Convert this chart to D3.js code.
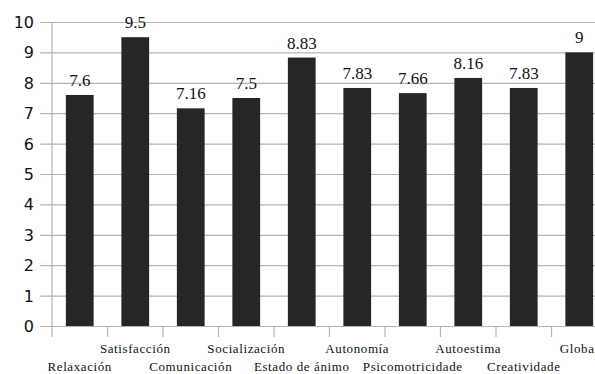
<!DOCTYPE html>
<html>
<head>
<meta charset="utf-8">
<script src="https://cdn.jsdelivr.net/npm/d3@7"></script>
<style>
 body { margin: 0; background: #fff; }
 svg { display: block; }
</style>
</head>
<body>
<svg width="595" height="374"></svg>
<script>
// categories and values
var categories = ["Relaxación", "Satisfacción", "Comunicación", "Socialización", "Estado de ánimo",
  "Autonomía", "Psicomotricidade", "Autoestima", "Creatividade", "Global"];
var values = [7.6, 9.5, 7.16, 7.5, 8.83, 7.83, 7.66, 8.16, 7.83, 9];
var valueLabels = ["7.6", "9.5", "7.16", "7.5", "8.83", "7.83", "7.66", "8.16", "7.83", "9"];
var yTicks = [0, 1, 2, 3, 4, 5, 6, 7, 8, 9, 10];

var serifFont = "'Liberation Serif', Tinos, 'Times New Roman', monospace",
  sansFont = "'DejaVu Sans', sans-serif";

var svg = d3.select("svg"),
  plotLeft = 52, plotTop = 22, plotBottom = 326,
  band = 55.5;

var x = d3.scaleBand()
  .domain(categories)
  .range([plotLeft, plotLeft + band * categories.length])
  .paddingInner(0.5)
  .paddingOuter(0.25);

var y = d3.scaleLinear()
  .domain([0, 10])
  .range([plotBottom, plotTop]);

// grid
svg.append("g")
  .selectAll("line")
  .data(yTicks)
  .enter().append("line")
  .attr("x1", 40)
  .attr("x2", 595)
  .attr("y1", function (d) { return y(d) + 0.5; })
  .attr("y2", function (d) { return y(d) + 0.5; })
  .attr("stroke", "#b4b4b4")
  .attr("stroke-width", 1.2);

// y axis line
svg.append("line")
  .attr("x1", plotLeft).attr("x2", plotLeft)
  .attr("y1", plotTop).attr("y2", plotBottom + 11)
  .attr("stroke", "#b4b4b4")
  .attr("stroke-width", 1.2);

// y tick labels
svg.selectAll("text.ytick")
  .data(yTicks)
  .enter().append("text")
  .attr("class", "ytick")
  .attr("font-family", sansFont)
  .style("font-family", sansFont)
  .style("font-size", "16px")
  .attr("x", 34)
  .attr("y", function (d) { return y(d) + 6; })
  .attr("text-anchor", "end")
  .attr("fill", "#111")
  .text(function (d) { return d; });

// category tick marks (between bands)
svg.append("g")
  .selectAll("line")
  .data(d3.range(1, categories.length + 1))
  .enter().append("line")
  .attr("x1", function (i) { return plotLeft + band * i; })
  .attr("x2", function (i) { return plotLeft + band * i; })
  .attr("y1", plotBottom)
  .attr("y2", plotBottom + 11)
  .attr("stroke", "#b4b4b4")
  .attr("stroke-width", 1.2);

// bars
svg.append("g")
  .selectAll("rect")
  .data(values)
  .enter().append("rect")
  .attr("x", function (d, i) { return x(categories[i]); })
  .attr("width", x.bandwidth())
  .attr("y", function (d) { return y(d); })
  .attr("height", function (d) { return plotBottom - y(d); })
  .attr("fill", "#262626");

// value labels
svg.selectAll("text.value")
  .data(values)
  .enter().append("text")
  .attr("class", "value")
  .attr("font-family", serifFont)
  .style("font-family", serifFont)
  .style("font-size", "17px")
  .attr("x", function (d, i) { return x(categories[i]) + x.bandwidth() / 2; })
  .attr("y", function (d) { return y(d) - 9; })
  .attr("text-anchor", "middle")
  .attr("fill", "#111")
  .text(function (d, i) { return valueLabels[i]; });

// category labels, staggered in two rows
svg.selectAll("text.cat")
  .data(categories)
  .enter().append("text")
  .attr("class", "cat")
  .attr("font-family", serifFont)
  .style("font-family", serifFont)
  .style("font-size", "13px")
  .style("letter-spacing", "0.6px")
  .attr("x", function (d) { return x(d) + x.bandwidth() / 2; })
  .attr("y", function (d, i) { return i % 2 ? 353 : 371; })
  .attr("text-anchor", "middle")
  .attr("fill", "#111")
  .text(function (d) { return d; });
</script>
</body>
</html>
